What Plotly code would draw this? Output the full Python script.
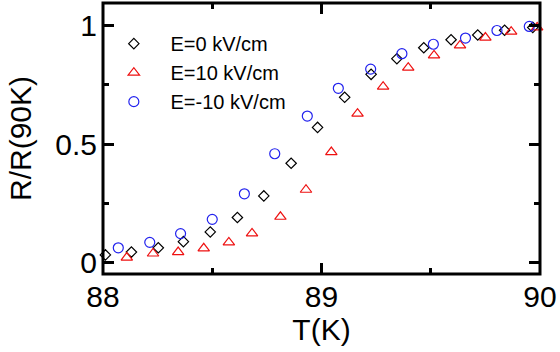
import plotly.graph_objects as go

# Temperature (K) and normalized resistance R/R(90K) for each applied field
t_e0 = [88.011, 88.130, 88.253, 88.368, 88.491, 88.615, 88.736, 88.861, 88.982,
        89.106, 89.227, 89.345, 89.468, 89.593, 89.715, 89.838, 89.967]
r_e0 = [0.032, 0.044, 0.062, 0.088, 0.129, 0.190, 0.281, 0.419, 0.570,
        0.697, 0.794, 0.860, 0.906, 0.940, 0.960, 0.980, 0.992]

t_ep10 = [88.109, 88.229, 88.344, 88.461, 88.576, 88.682, 88.812, 88.929, 89.045,
          89.165, 89.282, 89.397, 89.515, 89.634, 89.750, 89.868, 89.987]
r_ep10 = [0.021, 0.038, 0.044, 0.060, 0.085, 0.123, 0.193, 0.307, 0.466,
          0.628, 0.742, 0.822, 0.874, 0.916, 0.949, 0.974, 0.992]

t_em10 = [88.070, 88.214, 88.355, 88.500, 88.647, 88.786, 88.935, 89.077,
          89.225, 89.368, 89.512, 89.659, 89.803, 89.951]
r_em10 = [0.062, 0.085, 0.122, 0.182, 0.290, 0.459, 0.618, 0.735,
          0.816, 0.881, 0.921, 0.947, 0.979, 0.996]

x_ticks = [88, 89, 90]
x_tick_text = ["88", "89", "90"]
y_ticks = [0, 0.5, 1]
y_tick_text = ["0", "0.5", "1"]

FONT = "Liberation Sans, Arial, sans-serif"
PAD = "\u00a0\u00a0\u00a0"  # extra gap between legend symbol and label

fig = go.Figure()
fig.add_trace(go.Scatter(
    x=t_e0, y=r_e0, mode="markers", name=PAD + "E=0 kV/cm",
    marker=dict(symbol="diamond-open", size=8, color="black", line=dict(width=1.2)),
    cliponaxis=False,
))
fig.add_trace(go.Scatter(
    x=t_ep10, y=r_ep10, mode="markers", name=PAD + "E=10 kV/cm",
    marker=dict(symbol="triangle-up-open", size=10, color="#ee1111", line=dict(width=1.2)),
    cliponaxis=False,
))
fig.add_trace(go.Scatter(
    x=t_em10, y=r_em10, mode="markers", name=PAD + "E=-10 kV/cm",
    marker=dict(symbol="circle-open", size=10, color="#2222ee", line=dict(width=1.2)),
    cliponaxis=False,
))

# box frame around the plotting area
fig.add_shape(type="rect", xref="paper", yref="paper", x0=0, x1=1, y0=0, y1=1,
              line=dict(color="black", width=3), layer="above")

axis_common = dict(
    showline=False, showgrid=False, zeroline=False,
    ticks="inside", mirror="ticks", ticklen=11, tickwidth=3, tickcolor="black",
    tickfont=dict(family=FONT, size=30, color="black"),
)

fig.update_xaxes(
    range=[88, 90], tickvals=x_ticks, ticktext=x_tick_text,
    minor=dict(dtick=0.5, ticks="inside", ticklen=6, tickwidth=3, tickcolor="black"),
    title=dict(text="T(K)", font=dict(family=FONT, size=30, color="black"), standoff=2),
    ticklabelstandoff=2,
    **axis_common,
)
fig.update_yaxes(
    range=[-0.0485, 1.095], tickvals=y_ticks, ticktext=y_tick_text,
    minor=dict(dtick=0.25, ticks="inside", ticklen=6, tickwidth=3, tickcolor="black"),
    title=dict(text="R/R(90K)", font=dict(family=FONT, size=30, color="black"), standoff=14),
    ticklabelstandoff=5,
    **axis_common,
)

fig.update_layout(
    width=560, height=352,
    margin=dict(l=103, r=17, t=3, b=78),
    plot_bgcolor="white", paper_bgcolor="white",
    showlegend=True,
    legend=dict(
        x=0.0248, y=0.922, xanchor="left", yanchor="top",
        bgcolor="rgba(0,0,0,0)", borderwidth=0,
        font=dict(family=FONT, size=20, color="black"),
        itemwidth=30,
    ),
)

fig.write_html("out.html")
